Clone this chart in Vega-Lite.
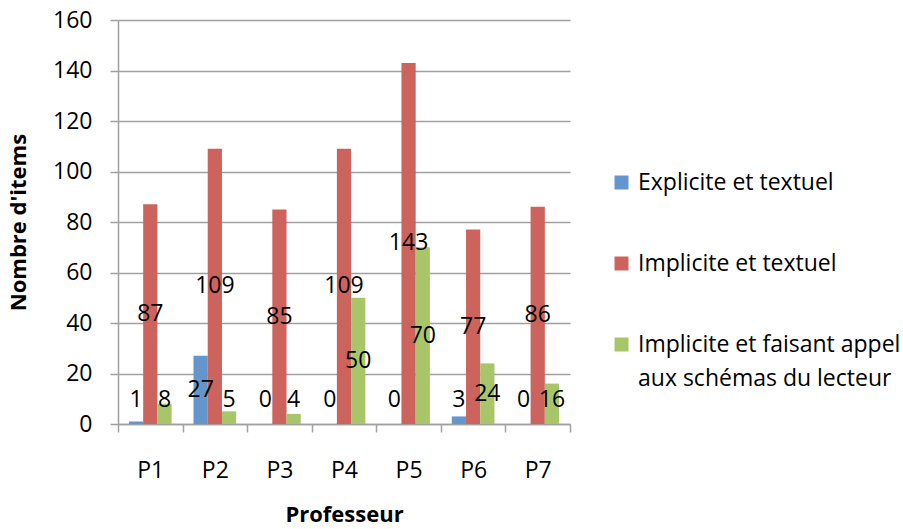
{
  "$schema": "https://vega.github.io/schema/vega-lite/v6.json",
  "width": 452,
  "height": 404,
  "autosize": {"type": "none"},
  "padding": {"left": 118, "top": 20, "right": 333, "bottom": 105},
  "background": "white",
  "config": {
    "view": {"stroke": null},
    "font": "Open Sans",
    "style": {"guide-label": {"lineHeight": 34}}
  },
  "data": {
    "values": [
      {"prof": "P1", "cat": "Explicite et textuel", "value": 1},
      {"prof": "P1", "cat": "Implicite et textuel", "value": 87},
      {"prof": "P1", "cat": "Implicite et faisant appel aux schémas du lecteur", "value": 8},
      {"prof": "P2", "cat": "Explicite et textuel", "value": 27},
      {"prof": "P2", "cat": "Implicite et textuel", "value": 109},
      {"prof": "P2", "cat": "Implicite et faisant appel aux schémas du lecteur", "value": 5},
      {"prof": "P3", "cat": "Explicite et textuel", "value": 0},
      {"prof": "P3", "cat": "Implicite et textuel", "value": 85},
      {"prof": "P3", "cat": "Implicite et faisant appel aux schémas du lecteur", "value": 4},
      {"prof": "P4", "cat": "Explicite et textuel", "value": 0},
      {"prof": "P4", "cat": "Implicite et textuel", "value": 109},
      {"prof": "P4", "cat": "Implicite et faisant appel aux schémas du lecteur", "value": 50},
      {"prof": "P5", "cat": "Explicite et textuel", "value": 0},
      {"prof": "P5", "cat": "Implicite et textuel", "value": 143},
      {"prof": "P5", "cat": "Implicite et faisant appel aux schémas du lecteur", "value": 70},
      {"prof": "P6", "cat": "Explicite et textuel", "value": 3},
      {"prof": "P6", "cat": "Implicite et textuel", "value": 77},
      {"prof": "P6", "cat": "Implicite et faisant appel aux schémas du lecteur", "value": 24},
      {"prof": "P7", "cat": "Explicite et textuel", "value": 0},
      {"prof": "P7", "cat": "Implicite et textuel", "value": 86},
      {"prof": "P7", "cat": "Implicite et faisant appel aux schémas du lecteur", "value": 16}
    ]
  },
  "transform": [{"calculate": "max(datum.value / 2, 9.6)", "as": "labelPos"}],
  "encoding": {
    "x": {
      "field": "prof",
      "type": "nominal",
      "title": "Professeur",
      "scale": {"paddingInner": 0, "paddingOuter": 0},
      "axis": {
        "labelAngle": 0,
        "tickBand": "extent",
        "domainColor": "#a0a0a0",
        "domainWidth": 1.5,
        "tickColor": "#a0a0a0",
        "tickWidth": 1.5,
        "tickSize": 8,
        "labelFontSize": 23,
        "labelColor": "#000000",
        "labelPadding": 27,
        "titleFontSize": 22,
        "titleFontWeight": "bold",
        "titleColor": "#000000",
        "titlePadding": 22
      }
    },
    "xOffset": {
      "field": "cat",
      "type": "nominal",
      "sort": ["Explicite et textuel", "Implicite et textuel", "Implicite et faisant appel aux schémas du lecteur"],
      "scale": {"paddingInner": 0, "paddingOuter": 0.77}
    }
  },
  "layer": [
    {
      "mark": {"type": "bar"},
      "encoding": {
        "y": {
          "field": "value",
          "type": "quantitative",
          "title": "Nombre d'items",
          "scale": {"domain": [0, 160], "nice": false},
          "axis": {
            "values": [0, 20, 40, 60, 80, 100, 120, 140, 160],
            "grid": true,
            "gridColor": "#a0a0a0",
            "gridWidth": 1.5,
            "domainColor": "#a0a0a0",
            "domainWidth": 1.5,
            "tickColor": "#a0a0a0",
            "tickWidth": 1.5,
            "tickSize": 8,
            "labelFontSize": 23,
            "labelColor": "#000000",
            "labelPadding": 18,
            "titleFontSize": 22,
            "titleFontWeight": "bold",
            "titleColor": "#000000",
            "titlePadding": 22
          }
        },
        "color": {
          "field": "cat",
          "type": "nominal",
          "sort": ["Explicite et textuel", "Implicite et textuel", "Implicite et faisant appel aux schémas du lecteur"],
          "scale": {"range": ["#6496CD", "#CD635D", "#A9C56A"]},
          "legend": {
            "title": null,
            "orient": "none",
            "legendX": 492,
            "legendY": 151,
            "padding": 0,
            "symbolType": "square",
            "symbolSize": 196,
            "symbolStrokeWidth": 0,
            "labelFontSize": 23,
            "labelColor": "#000000",
            "labelOffset": 5,
            "labelLimit": 400,
            "rowPadding": 57,
            "labelExpr": "datum.label == 'Implicite et faisant appel aux schémas du lecteur' ? ['Implicite et faisant appel', 'aux schémas du lecteur'] : datum.label"
          }
        }
      }
    },
    {
      "mark": {"type": "text", "fontSize": 23, "baseline": "middle", "align": "center", "color": "#000000"},
      "encoding": {
        "y": {"field": "labelPos", "type": "quantitative", "title": "Nombre d'items"},
        "text": {"field": "value", "type": "quantitative"}
      }
    }
  ]
}
